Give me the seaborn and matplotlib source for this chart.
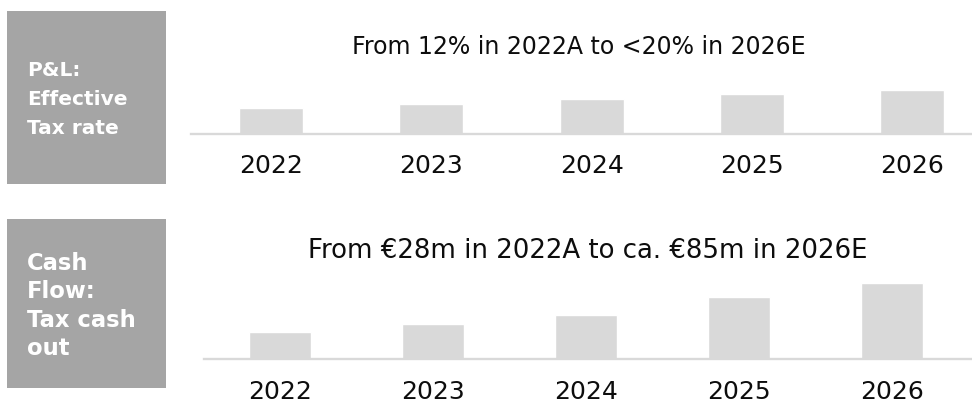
import matplotlib
matplotlib.use("Agg")
import matplotlib.pyplot as plt
import seaborn as sns
import pandas as pd
from matplotlib.patches import Rectangle

# Data
years = ["2022", "2023", "2024", "2025", "2026"]
tax_rate = [12.0, 14.0, 16.0, 18.0, 19.5]   # effective tax rate, %
tax_cash = [28, 36, 45, 64, 78]             # tax cash out, EUR m
label_top = ["P&L:", "Effective", "Tax rate"]
label_bottom = ["Cash", "Flow:", "Tax cash", "out"]
title_top = "From 12% in 2022A to <20% in 2026E"
title_bottom = "From €28m in 2022A to ca. €85m in 2026E"

sns.set_style("white")
plt.rcParams["font.family"] = ["DejaVu Sans"]

BAR = "#d9d9d9"
BOX = "#a5a5a5"
TXT = "#0d0d0d"
W, H = 972, 404

fig = plt.figure(figsize=(W / 100, H / 100), dpi=100)


def fx(x):
    return x / W


def fy(y):
    return 1 - y / H


# Grey label boxes on the left
for top, bottom in [(11, 183.5), (219, 388)]:
    fig.add_artist(Rectangle((fx(7), fy(bottom)), fx(159), (bottom - top) / H,
                             transform=fig.transFigure, color=BOX, lw=0))

for txt, base in zip(label_top, [76, 105, 134]):
    fig.text(fx(27), fy(base), txt, color="white", fontsize=14.5,
             fontweight="bold", va="baseline", ha="left")
for txt, base in zip(label_bottom, [270, 298, 327, 355]):
    fig.text(fx(27), fy(base), txt, color="white", fontsize=16.3,
             fontweight="bold", va="baseline", ha="left")


def bar_panel(left, base, height, values, xmax, ylo, k, pad):
    ax = fig.add_axes([fx(left), fy(base), fx(W - left), height / H])
    df = pd.DataFrame({"year": years, "value": values})
    sns.barplot(data=df, x="year", y="value", color=BAR, width=0.4,
                saturation=1, ax=ax)
    ax.set_xlim(-0.5, xmax)
    ax.set_ylim(ylo, ylo + height / k)
    ax.set_xlabel("")
    ax.set_ylabel("")
    ax.set_yticks([])
    for s in ["left", "right", "top"]:
        ax.spines[s].set_visible(False)
    ax.spines["bottom"].set_color(BAR)
    ax.spines["bottom"].set_linewidth(1.7)
    ax.tick_params(axis="x", length=0, pad=pad, labelsize=18, labelcolor=TXT)
    ax.patch.set_alpha(0)
    return ax


# P&L: effective tax rate
bar_panel(191, 133.5, 73.5, tax_rate, (W - 191) / 160.25 - 0.5, 1.58, 2.4, 14.5)
fig.text(fx(579), fy(47), title_top, ha="center", va="center",
         fontsize=17, color=TXT)

# Cash flow: tax cash out
bar_panel(203.5, 359, 89, tax_cash, (W - 203.5) / 153 - 0.5, 0, 0.975, 15)
fig.text(fx(588), fy(251), title_bottom, ha="center", va="center",
         fontsize=18.7, color=TXT)

fig.savefig("out.png", dpi=100)
